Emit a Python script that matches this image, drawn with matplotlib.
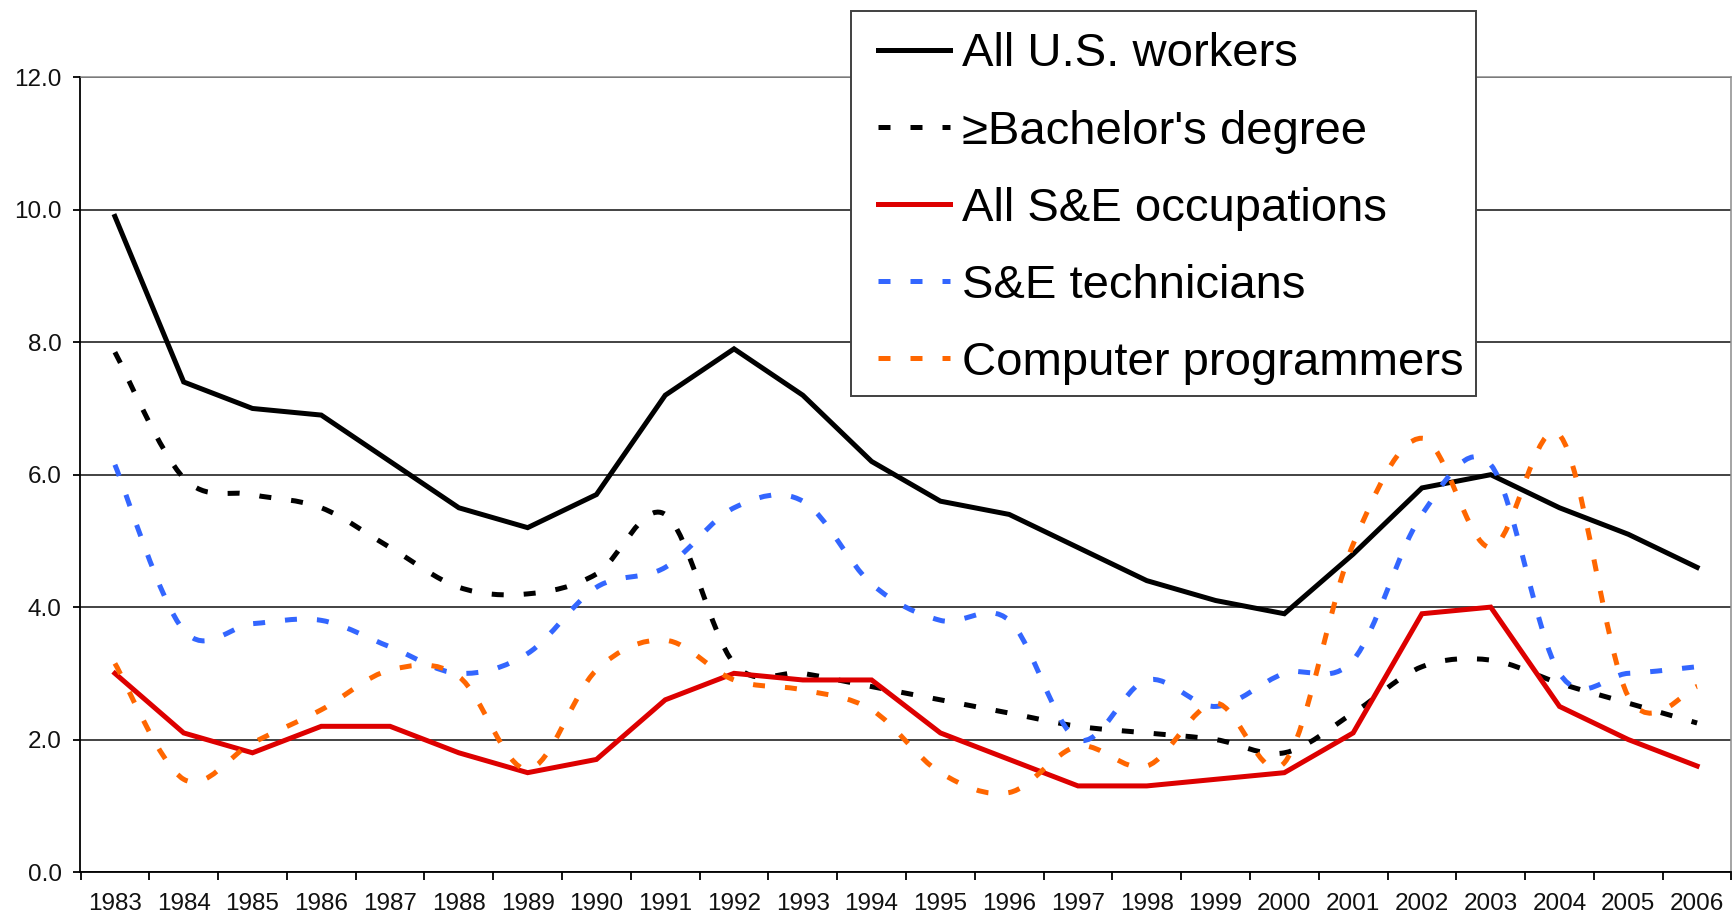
import numpy as np
import matplotlib
matplotlib.use("Agg")
import matplotlib.pyplot as plt
from matplotlib.path import Path
from matplotlib.patches import PathPatch, Rectangle
from matplotlib.lines import Line2D

plt.rcParams["font.family"] = ["Liberation Sans", "DejaVu Sans"]

years = [str(y) for y in range(1983, 2007)]
all_us = [9.9, 7.4, 7.0, 6.9, 6.2, 5.5, 5.2, 5.7, 7.2, 7.9, 7.2, 6.2,
          5.6, 5.4, 4.9, 4.4, 4.1, 3.9, 4.8, 5.8, 6.0, 5.5, 5.1, 4.6]
bachelor = [7.85, 5.95, 5.7, 5.5, 4.9, 4.3, 4.2, 4.5, 5.4, 3.15, 3.0, 2.8,
            2.6, 2.4, 2.2, 2.1, 2.0, 1.8, 2.4, 3.1, 3.2, 2.85, 2.55, 2.25]
se_all = [3.0, 2.1, 1.8, 2.2, 2.2, 1.8, 1.5, 1.7, 2.6, 3.0, 2.9, 2.9,
          2.1, 1.7, 1.3, 1.3, 1.4, 1.5, 2.1, 3.9, 4.0, 2.5, 2.0, 1.6]
se_tech = [6.15, 3.65, 3.75, 3.8, 3.4, 3.0, 3.3, 4.3, 4.6, 5.5, 5.6, 4.35,
           3.8, 3.8, 2.0, 2.9, 2.5, 3.0, 3.2, 5.4, 6.15, 3.0, 3.0, 3.1]
programmers = [3.15, 1.4, 1.95, 2.45, 3.05, 2.95, 1.55, 3.05, 3.5, 2.9, 2.75, 2.45,
               1.5, 1.2, 1.9, 1.6, 2.55, 1.65, 4.95, 6.55, 4.9, 6.6, 2.65, 2.8]

BLACK, RED, BLUE, ORANGE = "#000000", "#dd0000", "#3366ff", "#ff6600"
LW = 3.6
DASH = (0, (2.4, 4.0))


def smooth_path(x, y):
    # excel-like smoothed line: catmull-rom as cubic bezier
    verts = [(x[0], y[0])]; codes = [Path.MOVETO]
    n = len(x)
    for i in range(n - 1):
        xp, yp = (x[i - 1], y[i - 1]) if i > 0 else (x[i], y[i])
        xn, yn = (x[i + 2], y[i + 2]) if i + 2 < n else (x[i + 1], y[i + 1])
        c1 = (x[i] + (x[i + 1] - xp) / 6, y[i] + (y[i + 1] - yp) / 6)
        c2 = (x[i + 1] - (xn - x[i]) / 6, y[i + 1] - (yn - y[i]) / 6)
        verts += [c1, c2, (x[i + 1], y[i + 1])]
        codes += [Path.CURVE4] * 3
    return Path(verts, codes)


W, H = 1733, 921
fig = plt.figure(figsize=(W / 100, H / 100), dpi=100)
ax = fig.add_axes([80.5 / W, 0.0532, 1651 / W, 0.8628])
x = np.arange(len(years))

ax.plot(x, all_us, color=BLACK, lw=LW, solid_joinstyle="miter", zorder=3)
ax.add_patch(PathPatch(smooth_path(x, bachelor), fill=False, edgecolor=BLACK, lw=LW,
                       linestyle=DASH, capstyle="butt", zorder=3))
ax.plot(x, se_all, color=RED, lw=LW, solid_joinstyle="miter", zorder=3)
ax.add_patch(PathPatch(smooth_path(x, se_tech), fill=False, edgecolor=BLUE, lw=LW,
                       linestyle=DASH, capstyle="butt", zorder=3))
ax.add_patch(PathPatch(smooth_path(x, programmers), fill=False, edgecolor=ORANGE, lw=LW,
                       linestyle=DASH, capstyle="butt", zorder=3))

ax.set_xlim(-0.5, len(years) - 0.5)
ax.set_ylim(0, 12)
ax.set_yticks(np.arange(0, 12.1, 2))
ax.set_yticklabels([f"{v:.1f}" for v in np.arange(0, 12.1, 2)])
ax.set_xticks(x)
ax.set_xticklabels(years)
ax.set_xticks(np.arange(-0.5, len(years), 1), minor=True)
ax.tick_params(axis="x", which="major", length=0, pad=15, labelsize=17.5, labelcolor="#111")
ax.tick_params(axis="x", which="minor", length=5.5, width=1.3, direction="out")
ax.tick_params(axis="y", length=5, width=1.3, pad=8.5, labelsize=17.5, labelcolor="#111")
ax.grid(axis="y", color="#222222", lw=1.2, zorder=1)
for s in ("left", "bottom"):
    ax.spines[s].set_color("#000"); ax.spines[s].set_linewidth(1.3)
for s in ("top", "right"):
    ax.spines[s].set_color("#8c8c8c"); ax.spines[s].set_linewidth(1.1)

# legend box (white, drawn over the plot area like excel)
fig.patches.append(Rectangle((851 / W, 1 - 396 / H), 625 / W, 385 / H, transform=fig.transFigure,
                             facecolor="white", edgecolor="#404040", lw=1.4, zorder=5))
handles = [Line2D([], [], color=BLACK, lw=LW),
           Line2D([], [], color=BLACK, lw=LW, linestyle=DASH, dash_capstyle="butt"),
           Line2D([], [], color=RED, lw=LW),
           Line2D([], [], color=BLUE, lw=LW, linestyle=DASH, dash_capstyle="butt"),
           Line2D([], [], color=ORANGE, lw=LW, linestyle=DASH, dash_capstyle="butt")]
labels = ["All U.S. workers", "\u2265Bachelor's degree", "All S&E occupations",
          "S&E technicians", "Computer programmers"]
leg = fig.legend(handles, labels, loc="upper left", bbox_to_anchor=(878 / W, 1 - 32.5 / H),
                 fontsize=34, frameon=False, borderaxespad=0, borderpad=0,
                 labelspacing=0.70, handlelength=1.53, handletextpad=0.25)
leg.set_zorder(6)

plt.savefig("out.png", dpi=100)
